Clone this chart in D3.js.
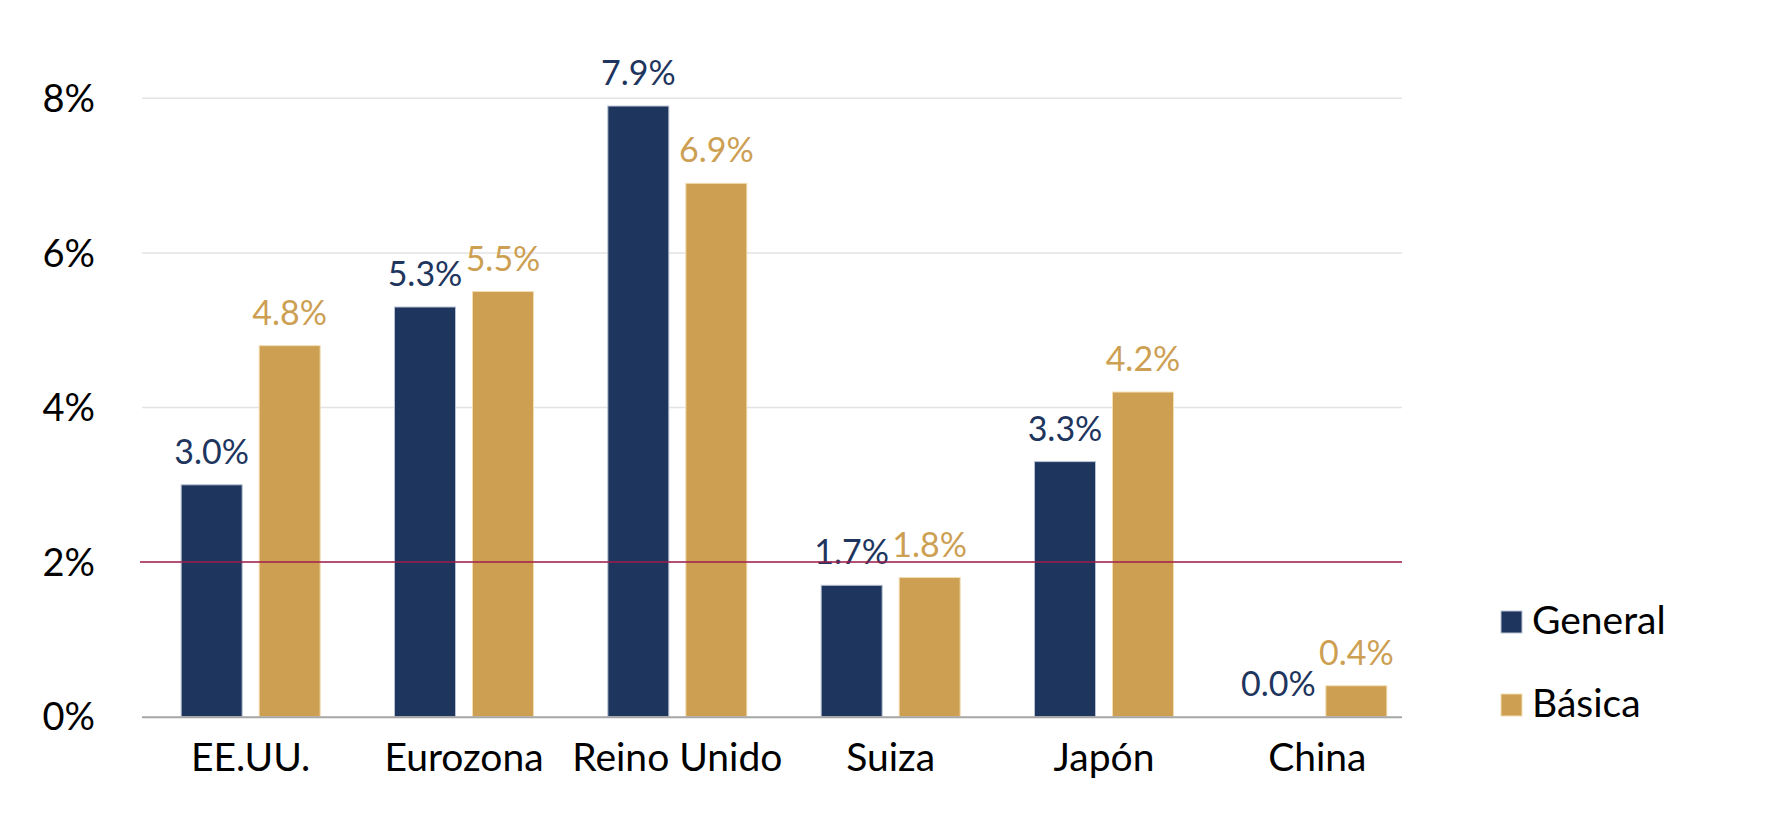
<!DOCTYPE html>
<html>
<head>
<meta charset="utf-8">
<script src="https://cdn.jsdelivr.net/npm/d3@7"></script>
<style>
  html, body { margin: 0; padding: 0; background: #fff; }
  svg text { font-family: Lato, "Noto Sans", sans-serif; }
</style>
</head>
<body>
<svg id="chart"></svg>
<script>
// datos del gráfico
const categories = ["EE.UU.", "Eurozona", "Reino Unido", "Suiza", "Japón", "China"];
const seriesNames = ["General", "Básica"];
const generalValues = [3.0, 5.3, 7.9, 1.7, 3.3, 0.0];
const basicaValues = [4.8, 5.5, 6.9, 1.8, 4.2, 0.4];
const yTicks = [0, 2, 4, 6, 8];
const targetLine = 2;

(function () {
  const W = 1771, H = 813;
  const colors = { "General": "#1e355e", "Básica": "#cd9f53" };
  const strokes = { "General": "#b9c2d3", "Básica": "#f3ddb1" };

  const svg = d3.select("#chart").attr("width", W).attr("height", H);

  const x = d3.scaleBand().domain(categories).range([144, 1424]);
  const xs = d3.scaleBand().domain(seriesNames).range([0, 139]).paddingInner(0.218);
  const y = d3.scaleLinear().domain([0, 8]).range([716.7, 98.3]);

  const axisLeftX = 142, axisRightX = 1402;

  // líneas de cuadrícula
  svg.append("g")
    .selectAll("line")
    .data(yTicks.filter((d) => d > 0))
    .join("line")
    .attr("x1", axisLeftX)
    .attr("x2", axisRightX)
    .attr("y1", (d) => y(d))
    .attr("y2", (d) => y(d))
    .attr("stroke", "#e3e3e3")
    .attr("stroke-width", 1.5);

  // etiquetas del eje Y
  svg.append("g")
    .selectAll("text")
    .data(yTicks)
    .join("text")
    .attr("x", 95)
    .attr("y", (d) => y(d))
    .attr("dy", "0.36em")
    .attr("text-anchor", "end")
    .attr("font-size", 38)
    .attr("fill", "#000")
    .text((d) => d + "%");

  // barras
  const rows = categories.map((c, i) => ({
    cat: c,
    vals: [
      { s: "General", v: generalValues[i] },
      { s: "Básica", v: basicaValues[i] },
    ],
  }));

  const groups = svg.append("g")
    .selectAll("g")
    .data(rows)
    .join("g")
    .attr("transform", (d) => `translate(${x(d.cat) + x.bandwidth() / 2 - 69.5},0)`);

  groups.selectAll("rect")
    .data((d) => d.vals.filter((e) => e.v > 0))
    .join("rect")
    .attr("x", (d) => xs(d.s))
    .attr("width", xs.bandwidth())
    .attr("y", (d) => y(d.v))
    .attr("height", (d) => y(0) - y(d.v))
    .attr("fill", (d) => colors[d.s])
    .attr("stroke", (d) => strokes[d.s])
    .attr("stroke-width", 1);

  // etiquetas de valores
  groups.selectAll("text")
    .data((d) => d.vals)
    .join("text")
    .attr("x", (d) => xs(d.s) + xs.bandwidth() / 2)
    .attr("y", (d) => y(d.v) - 21)
    .attr("text-anchor", "middle")
    .attr("font-size", 34)
    .attr("fill", (d) => colors[d.s])
    .text((d) => d.v.toFixed(1) + "%");

  // línea del objetivo 2%
  svg.append("line")
    .attr("x1", 140)
    .attr("x2", axisRightX)
    .attr("y1", y(targetLine))
    .attr("y2", y(targetLine))
    .attr("stroke", "#a01c4b")
    .attr("stroke-width", 1.5);

  // eje X
  svg.append("line")
    .attr("x1", axisLeftX)
    .attr("x2", axisRightX)
    .attr("y1", y(0) + 0.5)
    .attr("y2", y(0) + 0.5)
    .attr("stroke", "#a6a6a6")
    .attr("stroke-width", 2);

  svg.append("g")
    .selectAll("text")
    .data(categories)
    .join("text")
    .attr("x", (d) => x(d) + x.bandwidth() / 2)
    .attr("y", 771)
    .attr("text-anchor", "middle")
    .attr("font-size", 39)
    .attr("fill", "#000")
    .text((d) => d);

  // leyenda
  const legend = svg.append("g")
    .selectAll("g")
    .data(seriesNames)
    .join("g")
    .attr("transform", (d, i) => `translate(1501,${611 + i * 83})`);

  legend.append("rect")
    .attr("width", 21)
    .attr("height", 22)
    .attr("fill", (d) => colors[d])
    .attr("stroke", (d) => strokes[d])
    .attr("stroke-width", 1);

  legend.append("text")
    .attr("x", 31)
    .attr("y", 23)
    .attr("font-size", 39)
    .attr("fill", "#000")
    .text((d) => d);
})();
</script>
</body>
</html>
